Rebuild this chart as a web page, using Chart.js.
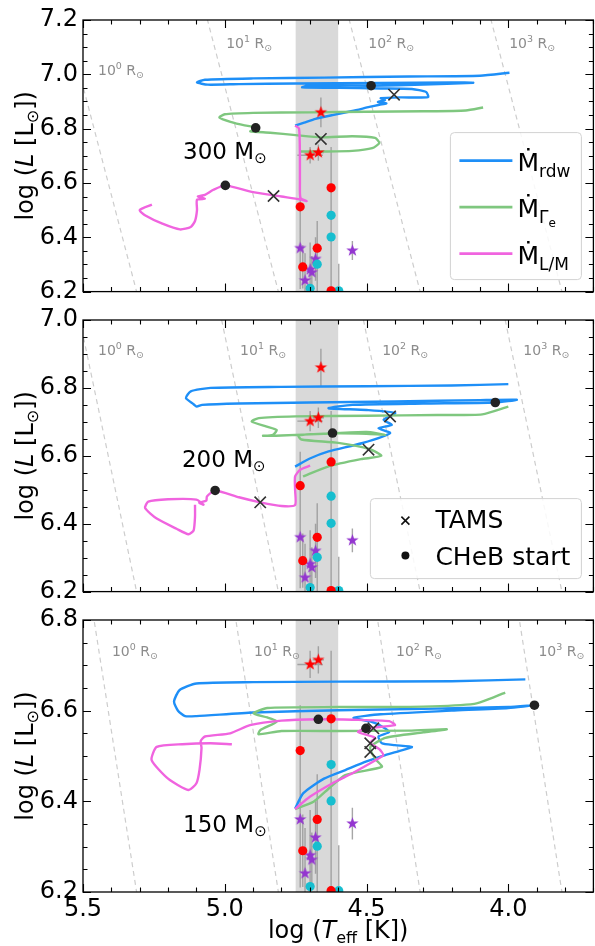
<!DOCTYPE html>
<html lang="en">
  <head>
    <meta charset="UTF-8" />
    <title>HRD tracks 300 / 200 / 150 Msun</title>
    <style>
      html, body { margin: 0; background: #fff; overflow: hidden; }
      canvas { position: absolute; left: 0; }
    </style>
  </head>
  <body>
    <!-- Chart.js keeps ~9.6px of right padding, so the canvases are a bit wider than the page -->
    <canvas id="c300" width="603" height="311" style="top:0px"></canvas>
    <canvas id="c200" width="603" height="311" style="top:300px"></canvas>
    <canvas id="c150" width="603" height="346" style="top:600px"></canvas>

    <script src="https://cdn.jsdelivr.net/npm/chart.js"></script>

    <script>
      // axes
      const xTicks = [5.5, 5.0, 4.5, 4.0];
      const yTicks300 = [6.2, 6.4, 6.6, 6.8, 7.0, 7.2];
      const yTicks200 = [6.2, 6.4, 6.6, 6.8, 7.0];
      const yTicks150 = [6.2, 6.4, 6.6, 6.8];
      const bandT = [4.75, 4.6];

      // constant radius lines (log T where each line meets log L = 6.0 and 7.4)
      const radiusExp = ["0", "1", "2", "3"];
      const radiusL = [6.0, 7.4];
      const radiusTLow = [5.261, 4.761, 4.261, 3.761];
      const radiusTHigh = [5.611, 5.111, 4.611, 4.111];

      // observed stars (same in every panel)
      const redDotT = [4.734, 4.625, 4.674, 4.725, 4.625];
      const redDotL = [6.512, 6.582, 6.36, 6.291, 6.203];
      const redDotErr = [0.1, 0.15, 0.1, 0.08, 0.15];
      const cyanDotT = [4.625, 4.625, 4.674, 4.699, 4.598];
      const cyanDotL = [6.481, 6.401, 6.301, 6.212, 6.203];
      const cyanDotErr = [0.12, 0.12, 0.12, 0.1, 0.1];
      const purpleStarT = [4.734, 4.68, 4.699, 4.693, 4.717, 4.55];
      const purpleStarL = [6.36, 6.32, 6.281, 6.271, 6.241, 6.351];
      const purpleStarErr = [0.15, 0.08, 0.1, 0.06, 0.1, 0.035];
      const redStarT = [4.699, 4.67, 4.661];
      const redStarL = [6.702, 6.712, 6.86];
      const redStarErr = [0.03, 0.03, 0.055];
      const redStarTErr = [0.045, 0.02, 0.01];

      // 300 Msun
      const rdw300T = [4.752, 4.72, 4.68, 4.62, 4.55, 4.49, 4.455, 4.43, 4.46, 4.435, 4.45, 4.38, 4.283, 4.29, 4.34, 4.45, 4.6, 4.727, 4.71, 4.6, 4.484, 4.3, 4.124, 4.2, 4.45, 4.75, 4.95, 5.06, 5.098, 5.07, 4.9, 4.65, 4.35, 4.1, 3.996];
      const rdw300L = [6.811, 6.822, 6.836, 6.85, 6.865, 6.88, 6.888, 6.893, 6.898, 6.905, 6.912, 6.915, 6.916, 6.935, 6.946, 6.948, 6.95, 6.952, 6.958, 6.959, 6.958, 6.962, 6.969, 6.97, 6.968, 6.966, 6.964, 6.962, 6.97, 6.98, 6.985, 6.988, 6.992, 6.995, 7.006];
      const gam300T = [4.735, 4.65, 4.55, 4.48, 4.455, 4.47, 4.55, 4.661, 4.75, 4.84, 4.91, 4.88, 4.89, 4.93, 4.98, 5.019, 5.0, 4.9, 4.7, 4.5, 4.3, 4.15, 4.089];
      const gam300L = [6.716, 6.716, 6.718, 6.728, 6.747, 6.766, 6.772, 6.768, 6.776, 6.785, 6.79, 6.798, 6.805, 6.812, 6.825, 6.841, 6.853, 6.858, 6.86, 6.862, 6.864, 6.867, 6.878];
      const lm300T = [4.752, 4.738, 4.735, 4.735, 4.733, 4.711, 4.735, 4.8, 4.9, 4.998, 5.04, 5.07, 5.095, 5.07, 5.098, 5.098, 5.105, 5.12, 5.158, 5.22, 5.28, 5.3, 5.257];
      const lm300L = [6.811, 6.8, 6.7, 6.6, 6.545, 6.533, 6.54, 6.55, 6.566, 6.591, 6.575, 6.556, 6.55, 6.542, 6.538, 6.5, 6.46, 6.438, 6.429, 6.45, 6.48, 6.5, 6.52];
      const tams300T = [4.403, 4.661, 4.828];
      const tams300L = [6.925, 6.762, 6.552];
      const cheb300T = [4.484, 4.891, 4.998];
      const cheb300L = [6.958, 6.803, 6.591];

      // 200 Msun
      const rdw200T = [4.752, 4.7, 4.634, 4.517, 4.417, 4.458, 4.411, 4.44, 4.399, 4.5, 4.634, 4.55, 4.3, 4.046, 3.97, 4.1, 4.4, 4.7, 4.95, 5.08, 5.099, 5.11, 5.137, 5.12, 5.05, 4.8, 4.5, 4.2, 4.0];
      const rdw200L = [6.568, 6.592, 6.613, 6.637, 6.667, 6.681, 6.691, 6.706, 6.726, 6.735, 6.74, 6.75, 6.754, 6.757, 6.765, 6.764, 6.76, 6.757, 6.754, 6.75, 6.745, 6.752, 6.77, 6.79, 6.8, 6.803, 6.805, 6.807, 6.811];
      const gam200T = [4.724, 4.634, 4.52, 4.448, 4.49, 4.6, 4.73, 4.74, 4.62, 4.5, 4.434, 4.5, 4.65, 4.8, 4.865, 4.83, 4.817, 4.852, 4.905, 4.88, 4.75, 4.5, 4.25, 4.092, 4.0];
      const gam200L = [6.539, 6.569, 6.59, 6.6, 6.62, 6.638, 6.648, 6.66, 6.666, 6.665, 6.662, 6.67, 6.665, 6.66, 6.659, 6.662, 6.676, 6.686, 6.701, 6.711, 6.716, 6.718, 6.72, 6.722, 6.745];
      const lm200T = [4.699, 4.734, 4.752, 4.752, 4.752, 4.8, 4.875, 4.95, 5.034, 5.063, 5.065, 5.09, 5.075, 5.1, 5.2, 5.27, 5.281, 5.24, 5.17, 5.128, 5.11, 5.105, 5.105];
      const lm200L = [6.571, 6.559, 6.539, 6.5, 6.455, 6.452, 6.463, 6.478, 6.498, 6.48, 6.468, 6.462, 6.456, 6.471, 6.472, 6.465, 6.446, 6.415, 6.385, 6.369, 6.38, 6.42, 6.456];
      const tams200T = [4.417, 4.493, 4.875];
      const tams200L = [6.716, 6.618, 6.463];
      const cheb200T = [4.046, 4.62, 5.034];
      const cheb200L = [6.757, 6.667, 6.498];

      // 150 Msun
      const rdw150T = [4.752, 4.723, 4.65, 4.575, 4.5, 4.434, 4.38, 4.34, 4.4, 4.446, 4.458, 4.42, 4.44, 4.48, 4.546, 4.45, 4.2, 4.0, 3.908, 4.0, 4.3, 4.6, 4.9, 5.1, 5.14, 5.165, 5.179, 5.16, 5.1, 4.9, 4.6, 4.2, 3.94];
      const rdw150L = [6.384, 6.418, 6.45, 6.469, 6.488, 6.502, 6.512, 6.52, 6.524, 6.528, 6.543, 6.553, 6.563, 6.575, 6.584, 6.592, 6.6, 6.606, 6.612, 6.608, 6.604, 6.601, 6.596, 6.588, 6.588, 6.6, 6.62, 6.645, 6.66, 6.663, 6.664, 6.665, 6.669];
      const gam150T = [4.752, 4.687, 4.63, 4.575, 4.446, 4.464, 4.48, 4.487, 4.434, 4.3, 4.217, 4.35, 4.6, 4.8, 4.881, 4.875, 4.817, 4.85, 4.899, 4.85, 4.6, 4.3, 4.12, 4.05, 4.011];
      const gam150L = [6.383, 6.399, 6.43, 6.458, 6.476, 6.49, 6.505, 6.52, 6.54, 6.552, 6.559, 6.556, 6.555, 6.555, 6.548, 6.557, 6.576, 6.585, 6.594, 6.606, 6.608, 6.609, 6.615, 6.63, 6.64];
      const lm150T = [4.752, 4.7, 4.62, 4.55, 4.47, 4.441, 4.455, 4.487, 4.47, 4.53, 4.502, 4.4, 4.42, 4.55, 4.67, 4.8, 4.911, 4.981, 5.07, 5.085, 5.082, 5.089, 5.1, 5.128, 5.2, 5.258, 5.24, 5.15, 5.05, 4.975];
      const lm150L = [6.383, 6.41, 6.44, 6.462, 6.49, 6.502, 6.515, 6.529, 6.54, 6.553, 6.561, 6.568, 6.577, 6.58, 6.581, 6.578, 6.568, 6.55, 6.543, 6.533, 6.518, 6.47, 6.44, 6.425, 6.45, 6.491, 6.52, 6.526, 6.528, 6.526];
      const tams150T = [4.476, 4.487, 4.487];
      const tams150L = [6.561, 6.528, 6.509];
      const cheb150T = [3.908, 4.502, 4.67];
      const cheb150L = [6.612, 6.561, 6.581];

      // label spots (log T, log L)
      const rLab300T = [5.447, 4.995, 4.494, 3.997];
      const rLab300L = [6.998, 7.097, 7.097, 7.097];
      const rLab200T = [5.447, 4.946, 4.445, 3.947];
      const rLab200L = [6.897, 6.897, 6.897, 6.897];
      const rLab150T = [5.398, 4.897, 4.396, 3.894];
      const rLab150L = [6.72, 6.72, 6.72, 6.72];

      const BLUE = "#1e8ff7";
      const GREEN = "#7fc77f";
      const PINK = "#f064df";
      const FONT = '"DejaVu Sans"';

      Chart.defaults.font.family = FONT;
      Chart.defaults.color = "#000";

      const xy = (T, L) => T.map((t, i) => ({ x: t, y: L[i] }));

      function starImage(color, r) {
        const c = document.createElement("canvas");
        c.width = c.height = 2 * r + 2;
        const g = c.getContext("2d");
        g.beginPath();
        for (let i = 0; i < 10; i++) {
          const rr = i % 2 ? r * 0.4 : r;
          const a = -Math.PI / 2 + (i * Math.PI) / 5;
          g.lineTo(r + 1 + rr * Math.cos(a), r + 1 + rr * Math.sin(a));
        }
        g.closePath();
        g.fillStyle = color;
        g.fill();
        return c;
      }
      const redStarImg = starImage("#ff0000", 6.5);
      const purpleStarImg = starImage("#9436d0", 6.5);

      function errorBars() {
        const d = [];
        const add = (T, L, E) =>
          T.forEach((t, i) => {
            d.push({ x: t, y: L[i] - E[i] }, { x: t, y: L[i] + E[i] }, { x: NaN, y: NaN });
          });
        add(redDotT, redDotL, redDotErr);
        add(cyanDotT, cyanDotL, cyanDotErr);
        add(purpleStarT, purpleStarL, purpleStarErr);
        add(redStarT, redStarL, redStarErr);
        redStarT.forEach((t, i) => {
          d.push({ x: t - redStarTErr[i], y: redStarL[i] }, { x: t + redStarTErr[i], y: redStarL[i] }, { x: NaN, y: NaN });
        });
        return d;
      }

      function track(T, L, color, order) {
        return {
          data: xy(T, L), showLine: true, borderColor: color, borderWidth: 2.4,
          pointRadius: 0, tension: 0.2, order: order,
        };
      }

      function buildSets(p) {
        const sets = [];
        radiusTLow.forEach((t, i) => {
          sets.push({
            data: [{ x: t, y: radiusL[0] }, { x: radiusTHigh[i], y: radiusL[1] }],
            showLine: true, borderColor: "#cdcdcd", borderWidth: 1.2, borderDash: [5, 4],
            pointRadius: 0, order: 20,
          });
        });
        sets.push({
          data: errorBars(), showLine: true, borderColor: "rgba(150,150,150,0.85)",
          borderWidth: 1.4, pointRadius: 0, order: 12,
        });
        sets.push(track(p.rdw[0], p.rdw[1], BLUE, 9));
        sets.push(track(p.gam[0], p.gam[1], GREEN, 8));
        sets.push(track(p.lm[0], p.lm[1], PINK, 7));
        const obs = (T, L, style, color, r) => ({
          data: xy(T, L), pointStyle: style, pointRadius: r, backgroundColor: color,
          borderWidth: 0, order: 3, clip: 0,
        });
        sets.push(obs(redDotT, redDotL, "circle", "#ff0000", 4.6));
        sets.push(obs(cyanDotT, cyanDotL, "circle", "#17becf", 4.6));
        sets.push(obs(purpleStarT, purpleStarL, purpleStarImg, "#9436d0", 6));
        sets.push(obs(redStarT, redStarL, redStarImg, "#ff0000", 6));
        sets.push({
          data: xy(p.cheb[0], p.cheb[1]), pointStyle: "circle", pointRadius: 4.8,
          backgroundColor: "#222", borderWidth: 0, order: 1,
        });
        sets.push({
          data: xy(p.tams[0], p.tams[1]), pointStyle: "crossRot", pointRadius: 8,
          borderColor: "#333", borderWidth: 1.6, order: 0,
        });
        return sets;
      }

      function rich(ctx, parts, x, y, measureOnly) {
        let cx = x;
        for (const [t, size, dy, italic] of parts) {
          ctx.font = (italic ? "italic " : "") + size + "px " + FONT;
          if (!measureOnly) ctx.fillText(t, cx, y + dy);
          cx += ctx.measureText(t).width;
        }
        return cx - x;
      }

      function drawTicks(ctx, a, x, y) {
        ctx.strokeStyle = "#000";
        ctx.lineWidth = 1.1;
        ctx.beginPath();
        for (let i = 0; i <= 18; i++) {
          const v = 3.7 + i * 0.1;
          const major = Math.abs(v * 2 - Math.round(v * 2)) < 1e-6;
          const len = major ? 8 : 4.5;
          const px = Math.round(x.getPixelForValue(v)) + 0.5;
          ctx.moveTo(px, a.bottom); ctx.lineTo(px, a.bottom - len);
          ctx.moveTo(px, a.top); ctx.lineTo(px, a.top + len);
        }
        const n = Math.round((y.max - y.min) / 0.05);
        for (let i = 0; i <= n; i++) {
          const major = i % 4 === 0;
          const len = major ? 8 : 4.5;
          const py = Math.round(y.getPixelForValue(y.min + i * 0.05)) + 0.5;
          ctx.moveTo(a.left, py); ctx.lineTo(a.left + len, py);
          ctx.moveTo(a.right, py); ctx.lineTo(a.right - len, py);
        }
        ctx.stroke();
        ctx.lineWidth = 1.3;
        ctx.strokeRect(a.left, a.top, a.right - a.left, a.bottom - a.top);
      }

      function legendBox(ctx, bx, by, w, h) {
        ctx.beginPath();
        ctx.roundRect(bx, by, w, h, 4);
        ctx.fillStyle = "rgba(255,255,255,0.85)";
        ctx.fill();
        ctx.strokeStyle = "#d2d2d2";
        ctx.lineWidth = 1;
        ctx.stroke();
      }

      const decor = {
        id: "decor",
        beforeDatasetsDraw(chart, args, p) {
          const { ctx, chartArea: a, scales: { x } } = chart;
          const x1 = x.getPixelForValue(bandT[0]);
          const x2 = x.getPixelForValue(bandT[1]);
          ctx.save();
          ctx.fillStyle = "#d9d9d9";
          ctx.fillRect(x1, a.top, x2 - x1, a.bottom - a.top);
          ctx.restore();
        },
        afterDraw(chart, args, p) {
          const { ctx, chartArea: a, scales: { x, y } } = chart;
          ctx.save();
          drawTicks(ctx, a, x, y);
          ctx.textBaseline = "alphabetic";

          // radius labels
          ctx.fillStyle = "#8c8c8c";
          p.rLab[0].forEach((t, i) => {
            rich(ctx, [["10", 14, 0], [radiusExp[i], 9.5, -6], [" R", 14, 0], ["\u2299", 9.5, 3]],
              x.getPixelForValue(t), y.getPixelForValue(p.rLab[1][i]));
          });

          // mass label
          ctx.fillStyle = "#000";
          rich(ctx, [[p.mass + " M", 23, 0], ["\u2299", 15, 4]],
            x.getPixelForValue(p.massPos[0]), y.getPixelForValue(p.massPos[1]));

          // y title
          const yParts = [["log (", 24, 0], ["L", 24, 0, true], [" [L", 24, 0], ["\u2299", 16, 5], ["])", 24, 0]];
          ctx.save();
          ctx.translate(33, (a.top + a.bottom) / 2);
          ctx.rotate(-Math.PI / 2);
          const wy = rich(ctx, yParts, 0, 0, true);
          rich(ctx, yParts, -wy / 2, 0);
          ctx.restore();

          if (p.xTitle) {
            const xParts = [["log (", 24, 0], ["T", 24, 0, true], ["eff", 16, 5], [" [K])", 24, 0]];
            const wx = rich(ctx, xParts, 0, 0, true);
            rich(ctx, xParts, (a.left + a.right) / 2 - wx / 2, a.bottom + 46);
          }

          if (p.legend === "tracks") {
            const bx = a.right - 143, by = a.bottom - 159;
            legendBox(ctx, bx, by, 131, 147);
            const rows = [
              [BLUE, [["\u1E40", 25, 0], ["rdw", 17, 6]]],
              [GREEN, [["\u1E40", 25, 0], ["\u0393", 17, 6], ["e", 12, 10]]],
              [PINK, [["\u1E40", 25, 0], ["L/M", 17, 6]]],
            ];
            rows.forEach(([c, parts], i) => {
              const ly = by + 28 + i * 46.5;
              ctx.strokeStyle = c;
              ctx.lineWidth = 2.6;
              ctx.beginPath();
              ctx.moveTo(bx + 9, ly); ctx.lineTo(bx + 62, ly);
              ctx.stroke();
              ctx.fillStyle = "#000";
              rich(ctx, parts, bx + 67, ly + 10);
            });
          }
          if (p.legend === "markers") {
            const bx = a.right - 223, by = a.bottom - 93;
            legendBox(ctx, bx, by, 211, 80);
            const mx = bx + 35, m1 = by + 22, m2 = by + 57;
            ctx.strokeStyle = "#111";
            ctx.lineWidth = 1.6;
            ctx.beginPath();
            ctx.moveTo(mx - 4, m1 - 4); ctx.lineTo(mx + 4, m1 + 4);
            ctx.moveTo(mx + 4, m1 - 4); ctx.lineTo(mx - 4, m1 + 4);
            ctx.stroke();
            ctx.fillStyle = "#111";
            ctx.beginPath();
            ctx.arc(mx, m2, 4, 0, Math.PI * 2);
            ctx.fill();
            ctx.fillStyle = "#000";
            rich(ctx, [["TAMS", 25, 0]], bx + 65, by + 29);
            rich(ctx, [["CHeB start", 25, 0]], bx + 65, by + 66);
          }
          ctx.restore();
        },
      };

      function makeChart(p) {
        new Chart(document.getElementById(p.id), {
          type: "scatter",
          data: { datasets: buildSets(p) },
          plugins: [decor],
          options: {
            responsive: false,
            animation: false,
            events: [],
            layout: { padding: { left: 0, right: 2, top: 20, bottom: p.bottomPad } },
            plugins: { legend: { display: false }, tooltip: { enabled: false }, decor: p },
            scales: {
              x: {
                type: "linear", reverse: true, min: 3.7, max: 5.5,
                afterBuildTicks: (s) => { s.ticks = xTicks.map((v) => ({ value: v })); },
                afterFit: (s) => { s.height = p.xHeight; },
                ticks: { display: p.xTitle, padding: 3, font: { size: 24 }, color: "#000", callback: (v) => v.toFixed(1) },
                grid: { display: false, drawTicks: false },
                border: { display: false },
              },
              y: {
                type: "linear", min: p.yTicks[0], max: p.yTicks[p.yTicks.length - 1],
                afterBuildTicks: (s) => { s.ticks = p.yTicks.map((v) => ({ value: v })); },
                afterFit: (s) => { s.width = 83; },
                ticks: { padding: 5, font: { size: 24 }, color: "#000", callback: (v) => v.toFixed(1) },
                grid: { display: false, drawTicks: false },
                border: { display: false },
              },
            },
          },
        });
      }

      makeChart({
        id: "c300", mass: "300", yTicks: yTicks300, bottomPad: 18, xHeight: 0, xTitle: false,
        rdw: [rdw300T, rdw300L], gam: [gam300T, gam300L], lm: [lm300T, lm300L],
        tams: [tams300T, tams300L], cheb: [cheb300T, cheb300L],
        rLab: [rLab300T, rLab300L], massPos: [5.147, 6.69], legend: "tracks",
      });
      makeChart({
        id: "c200", mass: "200", yTicks: yTicks200, bottomPad: 18, xHeight: 0, xTitle: false,
        rdw: [rdw200T, rdw200L], gam: [gam200T, gam200L], lm: [lm200T, lm200L],
        tams: [tams200T, tams200L], cheb: [cheb200T, cheb200L],
        rLab: [rLab200T, rLab200L], massPos: [5.151, 6.568], legend: "markers",
      });
      makeChart({
        id: "c150", mass: "150", yTicks: yTicks150, bottomPad: 0, xHeight: 54, xTitle: true,
        rdw: [rdw150T, rdw150L], gam: [gam150T, gam150L], lm: [lm150T, lm150L],
        tams: [tams150T, tams150L], cheb: [cheb150T, cheb150L],
        rLab: [rLab150T, rLab150L], massPos: [5.147, 6.332], legend: null,
      });
    </script>
  </body>
</html>
